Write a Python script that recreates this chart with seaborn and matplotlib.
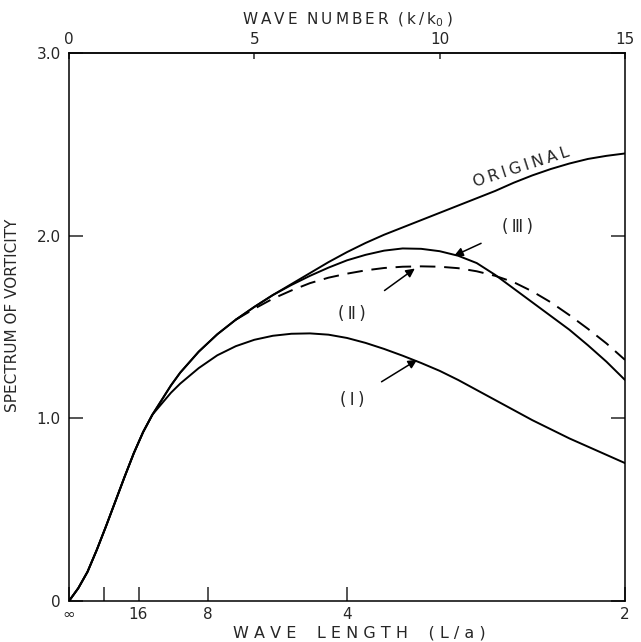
import numpy as np
import pandas as pd
import matplotlib
matplotlib.use("Agg")
import matplotlib.pyplot as plt
import seaborn as sns

# 読み取った値 (横軸 k/k0)
wave_number = [0.0, 0.25, 0.5, 0.75, 1.0, 1.25, 1.5, 1.75, 2.0, 2.25, 2.5, 2.75, 3.0,
               3.5, 4.0, 4.5, 5.0, 5.5, 6.0, 6.5, 7.0, 7.5, 8.0, 8.5, 9.0, 9.5, 10.0,
               10.5, 11.0, 11.5, 12.0, 12.5, 13.0, 13.5, 14.0, 14.5, 15.0]
original = [0.0, 0.07, 0.16, 0.28, 0.41, 0.545, 0.68, 0.81, 0.925, 1.02, 1.10, 1.18, 1.25,
            1.365, 1.46, 1.54, 1.61, 1.675, 1.735, 1.795, 1.855, 1.91, 1.96, 2.005, 2.045, 2.085, 2.125,
            2.165, 2.205, 2.245, 2.29, 2.33, 2.365, 2.395, 2.42, 2.437, 2.45]
case_1 = [0.0, 0.07, 0.16, 0.28, 0.41, 0.545, 0.68, 0.81, 0.925, 1.02, 1.08, 1.14, 1.19,
          1.275, 1.345, 1.395, 1.43, 1.452, 1.463, 1.465, 1.458, 1.44, 1.413, 1.38, 1.343, 1.303, 1.26,
          1.21, 1.155, 1.10, 1.045, 0.99, 0.94, 0.89, 0.845, 0.80, 0.755]
case_2 = [0.0, 0.07, 0.16, 0.28, 0.41, 0.545, 0.68, 0.81, 0.925, 1.02, 1.10, 1.18, 1.25,
          1.365, 1.46, 1.54, 1.60, 1.655, 1.70, 1.74, 1.77, 1.792, 1.81, 1.823, 1.83, 1.832, 1.83,
          1.822, 1.805, 1.78, 1.745, 1.695, 1.635, 1.565, 1.49, 1.41, 1.32]
case_3 = [0.0, 0.07, 0.16, 0.28, 0.41, 0.545, 0.68, 0.81, 0.925, 1.02, 1.10, 1.18, 1.25,
          1.365, 1.46, 1.54, 1.61, 1.675, 1.73, 1.78, 1.825, 1.865, 1.895, 1.918, 1.93, 1.928, 1.915,
          1.89, 1.85, 1.785, 1.71, 1.635, 1.56, 1.485, 1.40, 1.31, 1.21]

top_ticks = [0, 5, 10, 15]
wave_length_ticks = [np.inf, 32, 16, 8, 4, 2]
wave_length_labels = ["∞", "", "16", "8", "4", "2"]
y_ticks = [0, 1, 2, 3]
y_labels = ["0", "1.0", "2.0", "3.0"]

THIN = "\u2009"


def spaced(s, sep=" "):
    return sep.join(list(s))


def main():
    sns.set_style("ticks")
    plt.rcParams["font.family"] = ["DejaVu Sans"]

    df = pd.DataFrame({"k": wave_number, "orig": original,
                       "c1": case_1, "c2": case_2, "c3": case_3})

    fig = plt.figure(figsize=(6.41, 6.42), dpi=100)
    ax = fig.add_axes([69 / 641, 1 - 601 / 642, 556 / 641, 548 / 642])

    lw = 1.4
    kw = dict(ax=ax, color="black", lw=lw, sort=False, estimator=None)
    sns.lineplot(data=df, x="k", y="orig", **kw)
    sns.lineplot(data=df, x="k", y="c1", **kw)
    sns.lineplot(data=df, x="k", y="c3", **kw)
    sns.lineplot(data=df[df["k"] >= 4.5], x="k", y="c2", linestyle=(0, (8, 4.5)), **kw)

    ax.set_xlim(0, 15)
    ax.set_ylim(0, 3)

    # 下軸：波長 L/a (k = 30 / L)
    ax.set_xticks([30 / L for L in wave_length_ticks])
    ax.set_xticklabels(wave_length_labels)
    ax.set_yticks(y_ticks)
    ax.set_yticklabels(y_labels)
    ax.tick_params(axis="x", direction="in", length=10, width=1.1, labelsize=11, pad=4)
    ax.tick_params(axis="y", direction="in", length=10, width=1.1, labelsize=11, pad=6,
                   right=True)
    for sp in ax.spines.values():
        sp.set_linewidth(1.1)
        sp.set_color("black")

    secax = ax.secondary_xaxis("top")
    secax.set_xticks(top_ticks)
    secax.tick_params(direction="in", length=4, width=1.1, labelsize=11, pad=4)
    secax.spines["top"].set_linewidth(1.1)
    top_label = spaced("WAVE", THIN) + "  " + spaced("NUMBER", THIN) + "  " + \
        "(" + THIN + "k" + THIN + "/" + THIN + "k$_0$" + THIN + ")"
    secax.set_xlabel(top_label, fontsize=11, labelpad=6)

    bottom_label = spaced("WAVE") + "    " + spaced("LENGTH") + "    " + spaced("(L/a)")
    ax.set_xlabel(bottom_label, fontsize=11.5)
    ax.xaxis.set_label_coords(0.523, -0.045)
    ax.set_ylabel("SPECTRUM OF VORTICITY", fontsize=11)
    ax.yaxis.set_label_coords(-0.088, 0.522)

    ax.text(12.2, 2.375, spaced("ORIGINAL", THIN), rotation=18, ha="center", va="center",
            fontsize=11.5)

    arrow = dict(arrowstyle="-|>", color="black", lw=1.1, mutation_scale=13, shrinkA=0, shrinkB=0)
    ax.annotate("(" + THIN + "Ⅲ" + THIN + ")", xy=(10.39, 1.89), xytext=(12.1, 2.05), fontsize=12,
                ha="center", va="center", arrowprops=dict(arrow, shrinkA=14))
    ax.annotate("(" + THIN + "Ⅱ" + THIN + ")", xy=(9.33, 1.82), xytext=(7.63, 1.57), fontsize=12,
                ha="center", va="center", arrowprops=dict(arrow, shrinkA=14))
    ax.annotate("(" + THIN + "Ⅰ" + THIN + ")", xy=(9.39, 1.32), xytext=(7.63, 1.10), fontsize=12,
                ha="center", va="center", arrowprops=dict(arrow, shrinkA=12))

    fig.savefig("out.png", dpi=100)


if __name__ == "__main__":
    main()
